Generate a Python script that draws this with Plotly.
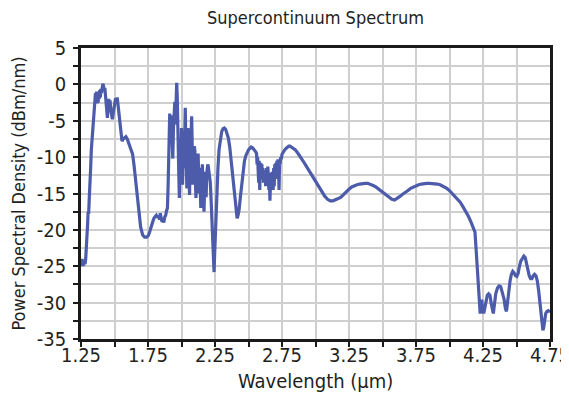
import plotly.graph_objects as go

# ---- data ----
wl_a = [1.250,1.255,1.258,1.262,1.266,1.270,1.275,1.280,1.285,1.290,
        1.295,1.300,1.303,1.307,1.312,1.318,1.322,1.327,1.332,1.337,
        1.342,1.346,1.350,1.354,1.358,1.362,1.366,1.370,1.374,1.378,
        1.382,1.386,1.390,1.394,1.398,1.403,1.408,1.413,1.418,1.423,
        1.428,1.432,1.437,1.442,1.447,1.452,1.457,1.462,1.467,1.472,
        1.478,1.484,1.490,1.496,1.502,1.508,1.515,1.520,1.525,1.532,
        1.540,1.548,1.556,1.565,1.575,1.585,1.595,1.605,1.615,1.625,
        1.635,1.645,1.655,1.665,1.675,1.685,1.695,1.710,1.725,1.740,
        1.752,1.762,1.772,1.782,1.792,1.802,1.812,1.820,1.828,1.836,
        1.842,1.848,1.855,1.862,1.868,1.875,1.882,1.888,1.895]
psd_a = [-24.3,-24.8,-24.0,-25.0,-24.2,-24.9,-24.3,-24.7,-24.0,-22.8,
         -21.0,-19.0,-17.5,-17.8,-15.5,-13.8,-11.5,-9.0,-7.5,-5.8,
         -4.2,-4.8,-3.0,-2.0,-1.2,-2.2,-1.0,-2.6,-1.3,-2.5,
         -1.0,-2.0,-0.8,-1.8,-0.6,-1.2,-0.3,0.1,-0.2,-0.8,
         -0.5,-1.5,-3.0,-4.3,-4.6,-3.2,-2.0,-2.8,-2.2,-3.5,
         -4.5,-4.8,-4.0,-3.0,-2.3,-1.9,-2.3,-1.8,-2.6,-3.8,
         -5.5,-7.0,-7.8,-7.5,-7.3,-7.2,-7.5,-8.0,-8.3,-8.9,
         -9.6,-11.0,-12.8,-14.6,-16.5,-18.3,-19.6,-20.7,-21.0,-21.0,
         -20.8,-20.3,-19.6,-19.0,-18.5,-18.2,-18.0,-18.3,-18.0,-18.6,
         -17.7,-18.4,-18.9,-18.6,-19.0,-18.2,-18.0,-17.4,-17.0]

wl_b = [1.900,1.904,1.908,1.912,1.916,1.920,1.925,1.930,1.935,1.940,
        1.945,1.950,1.955,1.960,1.964,1.968,1.972,1.976,1.980,1.984,
        1.988,1.992,1.996,2.000,2.004,2.008,2.012,2.016,2.020,2.024,
        2.028,2.032,2.036,2.040,2.044,2.048,2.052,2.056,2.060,2.064,
        2.068,2.072,2.076,2.080,2.084,2.088,2.092,2.096,2.100,2.104,
        2.108,2.112,2.116,2.120,2.124,2.128,2.132,2.136,2.140,2.144,
        2.148,2.152,2.156,2.160,2.164,2.168,2.172,2.176,2.180,2.184,
        2.188,2.192,2.196,2.200,2.205,2.210,2.215,2.220,2.225,2.230,
        2.235,2.240,2.243,2.247,2.252,2.258,2.265,2.272,2.280,2.290,
        2.300,2.310,2.320,2.330,2.340,2.350,2.360,2.370,2.380,2.390,
        2.400,2.408,2.415,2.422,2.430,2.440,2.450,2.460,2.470,2.480,
        2.490,2.500,2.510,2.520,2.530,2.540,2.548]
psd_b = [-14.0,-9.5,-5.0,-4.0,-5.5,-4.3,-4.6,-8.0,-10.2,-6.0,
         -3.8,-2.4,-5.5,-1.5,0.2,-1.5,-4.0,-8.0,-12.5,-15.6,
         -11.0,-7.5,-10.5,-6.0,-9.0,-13.8,-10.5,-7.0,-11.5,-5.0,
         -3.2,-7.5,-12.0,-14.3,-9.5,-6.0,-9.0,-12.5,-15.2,-11.0,
         -8.0,-5.5,-4.4,-8.5,-13.8,-10.0,-13.0,-8.5,-9.2,-13.5,
         -15.6,-12.0,-14.5,-10.5,-9.5,-12.5,-15.0,-11.5,-16.5,-17.0,
         -13.0,-11.5,-11.0,-14.0,-16.5,-17.5,-14.5,-12.0,-13.5,-15.5,
         -12.4,-11.5,-11.0,-11.3,-12.0,-12.6,-13.5,-15.5,-17.5,-20.0,
         -22.5,-25.0,-25.8,-23.5,-20.5,-17.8,-14.5,-11.5,-9.0,-7.3,
         -6.5,-6.1,-6.0,-6.2,-6.7,-7.4,-8.6,-10.3,-12.3,-14.3,
         -16.1,-17.6,-18.4,-18.0,-17.2,-15.4,-13.5,-11.7,-10.5,-9.8,
         -9.3,-9.0,-8.8,-8.6,-8.7,-8.9,-9.0]

wl_c = [2.555,2.560,2.564,2.568,2.572,2.576,2.580,2.584,2.588,2.592,
        2.596,2.600,2.604,2.608,2.612,2.616,2.620,2.624,2.628,2.632,
        2.636,2.640,2.644,2.648,2.652,2.656,2.660,2.664,2.668,2.672,
        2.676,2.680,2.684,2.688,2.692,2.696,2.700,2.704,2.708,2.712,
        2.716,2.720,2.724,2.728,2.732,2.736,2.740,2.745,2.750,2.760,
        2.770,2.780,2.790,2.800,2.810,2.820,2.835]
psd_c = [-9.3,-9.5,-11.0,-10.0,-11.3,-13.5,-10.5,-14.5,-11.0,-10.8,
         -12.5,-11.0,-13.0,-11.5,-13.5,-12.0,-13.1,-11.8,-14.0,-12.5,
         -11.5,-13.0,-11.3,-12.5,-14.5,-13.0,-16.0,-13.5,-12.2,-14.5,
         -12.0,-13.8,-14.5,-11.5,-14.0,-11.0,-12.5,-10.8,-12.0,-10.5,
         -13.0,-10.3,-11.5,-14.5,-10.5,-11.0,-10.0,-10.3,-9.6,-9.2,
         -9.0,-8.8,-8.6,-8.5,-8.5,-8.6,-8.8]

wl_d = [2.850,2.870,2.890,2.910,2.930,2.950,2.970,2.990,3.010,3.030,
        3.050,3.070,3.090,3.110,3.130,3.150,3.170,3.190,3.210,3.230,
        3.250,3.270,3.290,3.310,3.330,3.350,3.370,3.390,3.410,3.430,
        3.450,3.470,3.490,3.510,3.530,3.550,3.570,3.590,3.610,3.630,
        3.650,3.670,3.690,3.710,3.730,3.750,3.770,3.790,3.810,3.830,
        3.850,3.870,3.890,3.910,3.930,3.950,3.965,3.980,4.000,4.020,
        4.040,4.060,4.080,4.100,4.120,4.140,4.160,4.175]
psd_d = [-9.0,-9.5,-10.0,-10.6,-11.2,-11.8,-12.5,-13.1,-13.8,-14.4,
         -14.9,-15.4,-15.8,-16.0,-16.0,-15.9,-15.7,-15.5,-15.1,-14.7,
         -14.4,-14.1,-13.9,-13.8,-13.7,-13.6,-13.6,-13.6,-13.7,-13.9,
         -14.1,-14.4,-14.7,-15.0,-15.3,-15.6,-15.8,-15.9,-15.7,-15.4,
         -15.1,-14.9,-14.6,-14.3,-14.1,-14.0,-13.8,-13.7,-13.6,-13.6,
         -13.6,-13.6,-13.7,-13.7,-13.8,-14.0,-14.1,-14.3,-14.6,-15.0,
         -15.4,-15.8,-16.2,-16.8,-17.4,-18.1,-18.9,-19.5]

wl_e = [4.190,4.198,4.205,4.212,4.218,4.224,4.229,4.235,4.240,4.247,
        4.255,4.263,4.272,4.282,4.292,4.302,4.312,4.320,4.327,4.335,
        4.345,4.358,4.370,4.382,4.395,4.407,4.417,4.425,4.433,4.442,
        4.452,4.462,4.472,4.482,4.492,4.502,4.512,4.522,4.532,4.545,
        4.555,4.565,4.575,4.585,4.595,4.605,4.615,4.625,4.635,4.645,
        4.655,4.665,4.675,4.683,4.690,4.697,4.703,4.710,4.718,4.727,
        4.737,4.750]
psd_e = [-20.3,-22.5,-25.0,-27.5,-29.5,-31.0,-31.5,-30.2,-29.6,-30.8,
         -31.5,-30.8,-29.8,-29.0,-28.8,-29.0,-30.2,-31.3,-31.5,-30.3,
         -28.8,-28.0,-27.7,-27.8,-28.6,-29.5,-30.8,-31.2,-30.0,-28.2,
         -27.0,-26.1,-25.7,-25.9,-26.3,-26.4,-26.0,-25.0,-24.3,-23.9,
         -23.6,-23.8,-24.6,-25.6,-26.3,-26.7,-26.7,-26.3,-26.1,-26.3,
         -27.0,-28.3,-30.0,-31.8,-33.0,-33.8,-33.4,-32.2,-31.5,-31.2,
         -31.1,-31.3]

x_tick_vals = [1.25,1.5,1.75,2.0,2.25,2.5,2.75,3.0,3.25,3.5,3.75,4.0,4.25,4.5,4.75]
x_tick_text = ["1.25","","1.75","","2.25","","2.75","","3.25","","3.75","","4.25","","4.75"]
y_tick_vals = [-35,-32.5,-30,-27.5,-25,-22.5,-20,-17.5,-15,-12.5,-10,-7.5,-5,-2.5,0,2.5,5]
y_tick_text = ["-35","","-30","","-25","","-20","","-15","","-10","","-5","","0","","5"]

wavelength = wl_a + wl_b + wl_c + wl_d + wl_e
psd = psd_a + psd_b + psd_c + psd_d + psd_e
assert len(wavelength) == len(psd)

FONT = "DejaVu Sans Condensed, sans-serif"
TXT = "#231f20"

# page body has an 8px margin, so the figure is offset by 8px
ML, MT, PW, PH = 73, 40, 469, 291
W, H = 569, 394

fig = go.Figure()
fig.add_trace(go.Scatter(x=wavelength, y=psd, mode="lines",
                         line=dict(color="#4c5cab", width=3.2), showlegend=False))

axis_common = dict(showline=True, linecolor="#1a1a1a", linewidth=2.5, mirror=True,
                   showgrid=True, gridcolor="#cfcfcf", gridwidth=2,
                   ticks="outside", ticklen=5, tickwidth=2, tickcolor="#1a1a1a",
                   zeroline=False, automargin=False, ticklabeloverflow="allow",
                   tickfont=dict(family=FONT, size=20, color=TXT))

fig.update_xaxes(range=[1.25, 4.75], tickmode="array", tickvals=x_tick_vals, ticktext=x_tick_text,
                 ticklabelstandoff=-9, **axis_common)
fig.update_yaxes(range=[-35, 5], tickmode="array", tickvals=y_tick_vals, ticktext=y_tick_text,
                 ticklabelstandoff=3, **axis_common)

fig.update_layout(
    width=W, height=H,
    margin=dict(l=ML, r=W - ML - PW, t=MT, b=H - MT - PH),
    paper_bgcolor="white", plot_bgcolor="white",
    title=dict(text="Supercontinuum Spectrum", x=0.5, xref="paper", y=1 - 10 / H, yref="container",
               yanchor="middle", font=dict(family=FONT, size=18, color=TXT)),
    annotations=[
        dict(text="Wavelength (µm)", xref="paper", yref="paper", x=0.5,
             y=-(373 - (MT + PH)) / PH,
             xanchor="center", yanchor="middle", showarrow=False,
             font=dict(family=FONT, size=20, color=TXT)),
        dict(text="Power Spectral Density (dBm/nm)", xref="paper", yref="paper",
             x=-(ML - 10) / PW, y=0.5, textangle=-90, xanchor="center", yanchor="middle",
             showarrow=False, font=dict(family=FONT, size=18, color=TXT)),
    ],
)

fig.write_html("out.html")
